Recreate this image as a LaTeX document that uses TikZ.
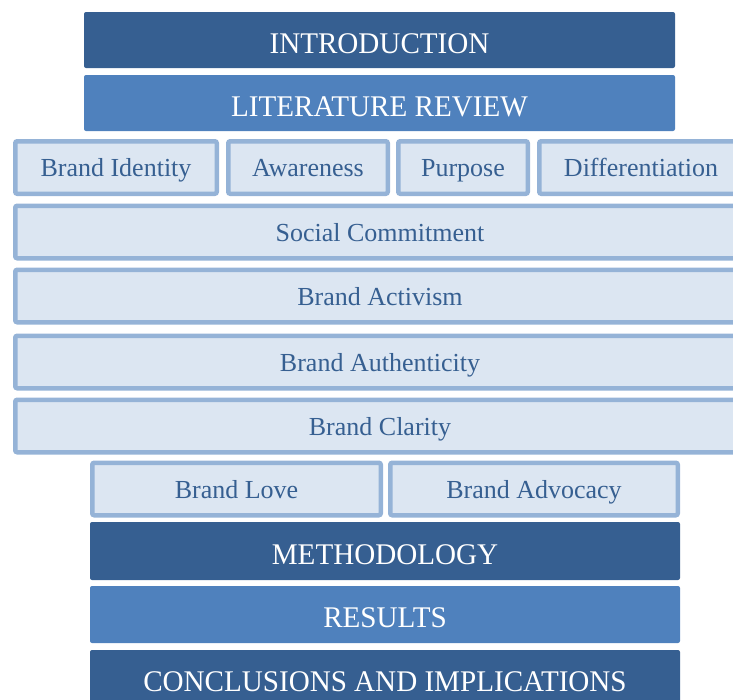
\documentclass[tikz,border=0pt]{standalone}
\usepackage{fontspec}
\setmainfont{Liberation Serif}
\newfontfamily\headfont[FakeStretch=0.97]{Liberation Serif}
\usepackage{tikz}
\usetikzlibrary{positioning}

\definecolor{darkblue}{HTML}{365F91}
\definecolor{midblue}{HTML}{4F81BD}
\definecolor{paleblue}{HTML}{DCE6F2}
\definecolor{edgeblue}{HTML}{95B3D7}

\tikzset{
  headbox/.style={fill=darkblue,draw=none,rounded corners=2pt,text=white,
    font=\headfont\fontsize{30}{32}\selectfont,inner sep=0pt,
    text height=28pt,text depth=2pt},
  subbox/.style={headbox,fill=midblue},
  topicbox/.style={fill=paleblue,draw=edgeblue,line width=4.5pt,rounded corners=2pt,
    text=darkblue,font=\fontsize{26}{30}\selectfont,inner sep=0pt,
    text height=24pt,text depth=6pt}
}

\begin{document}
\begin{tikzpicture}[x=1pt,y=-1pt]

%Frame
\useasboundingbox (0,0) rectangle (733,699);
\clip (0,0) rectangle (733,699);

%Box sizes
\def\hw{591}
\def\hh{56}
\def\th{52.5}

%Sections at the top
\node[headbox,minimum width=\hw,minimum height=\hh] (intro) at (379.5,40) {INTRODUCTION};
\node[subbox,minimum width=\hw,minimum height=\hh] (review) at (379.5,103) {LITERATURE REVIEW};

%Topics of the review
\node[topicbox,minimum width=201.5,minimum height=\th] (identity) at (116,167.5) {Brand Identity};
\node[topicbox,minimum width=159.5,minimum height=\th] (awareness) at (308,167.5) {Awareness};
\node[topicbox,minimum width=129.5,minimum height=\th] (purpose) at (463,167.5) {Purpose};
\node[topicbox,minimum width=203.5,minimum height=\th] (differ) at (641,167.5) {Differentiation};

\node[topicbox,minimum width=729.5,minimum height=\th] (commit) at (380,232) {Social Commitment};
\node[topicbox,minimum width=729.5,minimum height=\th] (activism) at (380,296) {Brand Activism};
\node[topicbox,minimum width=729.5,minimum height=\th] (authentic) at (380,362) {Brand Authenticity};
\node[topicbox,minimum width=729.5,minimum height=\th] (clarity) at (380,426) {Brand Clarity};

\node[topicbox,minimum width=288.5,minimum height=\th] (love) at (236.5,489) {Brand Love};
\node[topicbox,minimum width=287.5,minimum height=\th] (advocacy) at (534,489) {Brand Advocacy};

%Sections at the bottom
\node[headbox,minimum width=590,minimum height=58] (method) at (385,551) {METHODOLOGY};
\node[subbox,minimum width=590,minimum height=57] (results) at (385,614.5) {RESULTS};
\node[headbox,minimum width=590,minimum height=57] (concl) at (385,678.5) {CONCLUSIONS AND IMPLICATIONS};

\end{tikzpicture}
\end{document}
